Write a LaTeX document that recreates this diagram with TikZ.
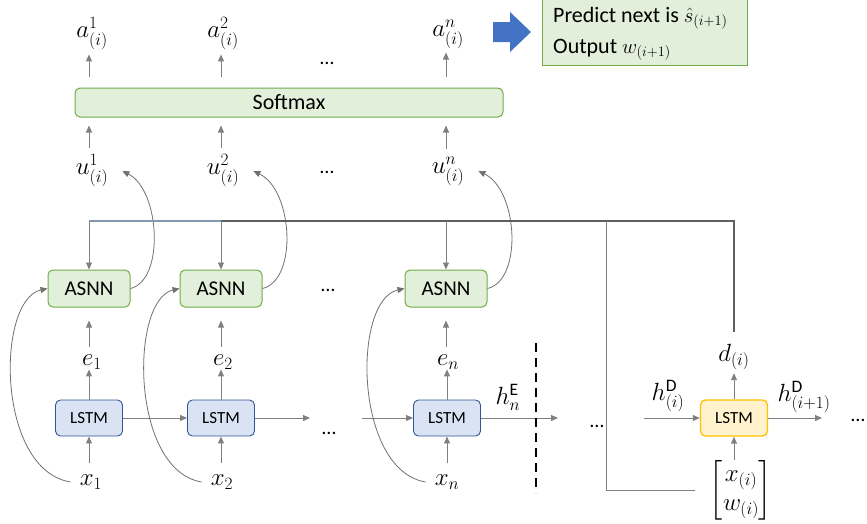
\documentclass[tikz,border=0pt]{standalone}
\usepackage{amsmath}
\usepackage{fontspec}
\setmainfont{Carlito}
\usetikzlibrary{arrows.meta}
\definecolor{gfill}{HTML}{E2EFDA}
\definecolor{gdraw}{HTML}{70AD47}
\definecolor{bfill}{HTML}{DAE3F3}
\definecolor{bdraw}{HTML}{2F5597}
\definecolor{yfill}{HTML}{FFF2CC}
\definecolor{ydraw}{HTML}{FFC000}
\definecolor{lgray}{HTML}{808080}
\definecolor{dgray}{HTML}{5F5F5F}
\definecolor{cgray}{HTML}{707070}
\definecolor{bgray}{HTML}{8497B0}
\definecolor{barrow}{HTML}{4472C4}
\begin{document}
\begin{tikzpicture}[x=1pt,y=-1pt,
  tip/.style={-{Triangle[length=7pt,width=6pt]}},
  arr/.style={draw=lgray,line width=0.9pt,tip},
  carr/.style={draw=cgray,line width=0.8pt,tip},
  topline/.style={draw=dgray,line width=1.2pt},
  greenbox/.style={draw=gdraw,fill=gfill,line width=1pt,rounded corners=5pt,inner sep=0pt},
  asnnbox/.style={greenbox,minimum width=82pt,minimum height=37pt,font=\fontsize{21}{24}\selectfont},
  lstmbox/.style={draw=bdraw,fill=bfill,line width=0.9pt,rounded corners=5pt,inner sep=0pt,minimum width=67pt,minimum height=36pt,font=\fontsize{17}{20}\selectfont},
  decbox/.style={lstmbox,draw=ydraw,fill=yfill,line width=1.3pt},
  mlabel/.style={inner sep=0pt,font=\fontsize{25}{29}\selectfont},
  dotlabel/.style={inner sep=0pt,font=\fontsize{20}{24}\selectfont},
  txt/.style={inner sep=0pt,anchor=base west,font=\fontsize{22}{26}\selectfont}]
\useasboundingbox (0,0) rectangle (867,523);

% top output box and block arrow
\node[draw=gdraw,fill=gfill,line width=1pt,inner sep=0pt,anchor=north west,minimum width=205pt,minimum height=68pt] (outbox) at (542,-3) {};
\node[txt] (pred) at (553,22) {Predict next is $\hat{s}_{(i+1)}$};
\node[txt] (outp) at (553,53) {Output $w_{(i+1)}$};
\fill[barrow] (493,22) -- (510,22) -- (510,12) -- (531,32) -- (510,52) -- (510,42) -- (493,42) -- cycle;

% softmax
\node[greenbox,minimum width=428pt,minimum height=29pt,font=\fontsize{22}{26}\selectfont] (sm) at (289,102.5) {Softmax};

% a labels
\node[mlabel] (a1) at (92,34) {$a^{1}_{(i)}$};
\node[mlabel] (a2) at (223,34) {$a^{2}_{(i)}$};
\node[mlabel] (a3) at (448,34) {$a^{n}_{(i)}$};
\node[dotlabel] (dots1) at (327,63) {…};

% u labels
\node[mlabel,inner xsep=14pt] (u1) at (92,171) {$u^{1}_{(i)}$};
\node[mlabel,inner xsep=14pt] (u2) at (223,171) {$u^{2}_{(i)}$};
\node[mlabel,inner xsep=14pt] (u3) at (448,171) {$u^{n}_{(i)}$};
\node[dotlabel] (dots2) at (327,172) {…};

% ASNN
\node[asnnbox] (s1) at (89,288.5) {ASNN};
\node[asnnbox] (s2) at (221,288.5) {ASNN};
\node[asnnbox] (s3) at (446,288.5) {ASNN};
\node[dotlabel] (dots3) at (328,290) {…};

% e labels
\node[mlabel] (e1) at (92,362) {$e_{1}$};
\node[mlabel] (e2) at (223,362) {$e_{2}$};
\node[mlabel] (e3) at (448,362) {$e_{n}$};

% LSTMs
\node[lstmbox] (l1) at (89,418) {LSTM};
\node[lstmbox] (l2) at (221,418) {LSTM};
\node[lstmbox] (l3) at (447,418) {LSTM};
\node[dotlabel] (dots4) at (329,433) {…};

% x labels
\node[mlabel,inner xsep=9pt] (x1) at (91,482) {$x_{1}$};
\node[mlabel,inner xsep=9pt] (x2) at (222,482) {$x_{2}$};
\node[mlabel,inner xsep=9pt] (x3) at (447,482) {$x_{n}$};

% vertical arrows
\foreach \c in {1,2,3}{
  \draw[arr,shorten <=11pt,shorten >=4pt] (sm.north -| s\c) -- (a\c.south -| s\c);
  \draw[arr,shorten <=7pt,shorten >=8pt] (u\c.north -| s\c) -- (sm.south -| s\c);
  \draw[arr,shorten <=8pt,shorten >=13pt] (e\c.north -| s\c) -- (s\c.south);
  \draw[arr] (l\c.north) -- (e\c.south -| l\c);
  \draw[arr,shorten <=12pt] (x\c.north -| l\c) -- (l\c.south);
}

% recurrent arrows
\draw[arr] (l1.east) -- (l2.west);
\coordinate (l2out) at (310,418);
\coordinate (l3in) at (362,418);
\draw[arr] (l2.east) -- (l2out);
\draw[arr] (l3in) -- (l3.west);
\coordinate (hEend) at (558,418);
\draw[arr] (l3.east) -- (hEend);
\node[mlabel] (hE) at (508,397) {$h^{\mathrm{E}}_{n}$};
\coordinate (dtop) at (536,343);
\coordinate (dbot) at (536,493);
\draw[black,line width=1.8pt,dash pattern=on 9pt off 6pt] (dtop) -- (dbot);
\node[dotlabel] (dots5) at (597,426) {…};

% curved arrows
\draw[carr] (x1.west) .. controls (-4,470) and (-4,300) .. (s1.west);
\draw[carr] (x2.west) .. controls (130,470) and (130,300) .. (s2.west);
\draw[carr] (x3.west) .. controls (354,470) and (352,300) .. (s3.west);
\draw[carr] (s1.east) .. controls (165,280) and (160,190) .. (u1.east);
\draw[carr] (s2.east) .. controls (298,280) and (293,190) .. (u2.east);
\draw[carr] (s3.east) .. controls (523,280) and (518,190) .. (u3.east);

% decoder
\node[decbox] (lD) at (734,418) {LSTM};
\node[mlabel] (d) at (734,357) {$d_{(i)}$};
\node[mlabel] (vec) at (741,490) {$\begin{bmatrix} x_{(i)}\\ w_{(i)} \end{bmatrix}$};
\coordinate (hin) at (644,418);
\coordinate (hout) at (822,418);
\node[mlabel] (hD) at (668,396) {$h^{\mathrm{D}}_{(i)}$};
\node[mlabel] (hD1) at (804,397) {$h^{\mathrm{D}}_{(i+1)}$};
\draw[arr] (hin) -- (lD.west);
\draw[arr] (lD.east) -- (hout);
\draw[arr,shorten >=3pt] (lD.north) -- (d.south -| lD);
\draw[arr] (vec.north -| lD) -- (lD.south);
\node[dotlabel] (dots6) at (858,420) {…};

% top connection line
\coordinate (tr) at (734,221);
\coordinate (br) at (606,221);
\draw[topline,shorten <=12pt] (d.north -| lD) -- (tr) -- (tr -| s1.north);
\draw[bgray,line width=1.2pt] (s1.north |- tr) -- (s2.north |- tr);
\foreach \c in {1,2,3}{
  \draw[arr] (s\c.north |- tr) -- (s\c.north);
}
\draw[draw=lgray,line width=1pt] (br) |- ([xshift=-15pt]vec.west);
\end{tikzpicture}
\end{document}
